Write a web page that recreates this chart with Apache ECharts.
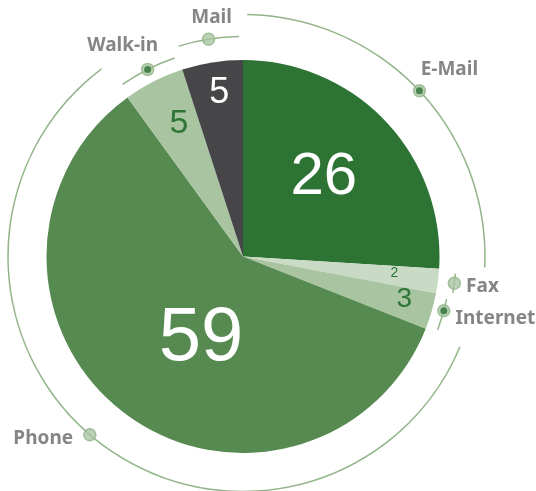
<!DOCTYPE html>
<html><head><meta charset="utf-8">
<script src="https://cdn.jsdelivr.net/npm/echarts@6/dist/echarts.min.js"></script>
<style>html,body{margin:0;padding:0;background:#fff}#c{width:536px;height:491px}</style>
</head><body><div id="c"></div>
<script>
// ---- data ----
const categories = ['E-Mail', 'Fax', 'Internet', 'Phone', 'Walk-in', 'Mail'];
const values = [26, 2, 3, 59, 5, 5];

// ---- styling / layout ----
const sliceColors = ['#2d7334', '#c9dbc5', '#a9c4a1', '#568a50', '#a9c4a1', '#464648'];
const valueLabelColors = ['#ffffff', '#2f7535', '#2f7535', '#ffffff', '#2f7535', '#ffffff'];
const valueLabelSizes = [60, 14, 28, 76, 34, 36];
const valueLabelOffsets = [[7, -10], [51, 4], [64, 15], [20, 3], [-18, -43], [-8, -63]];
const arcRadius = [242, 213, 208, 235, 210, 220];
const dotShift = [0, 0, -0.3, 0.8, 0, 0];
const innerDot = [true, false, true, false, true, false];
const nameLabelPos = ['top', 'right', 'right', 'left', 'top', 'top'];
const nameLabelOffsets = [[30, 0], [0, 3], [0, 8], [-5, 4], [-25, -3], [3, 0]];

const CX = 243, CY = 256.5, R = 196.5;
const total = values.reduce((a, b) => a + b, 0);
const mids = [];
let acc = 0;
values.forEach(v => { mids.push(acc + v / 2); acc += v; });

const arcColor = '#93b58b';
const series = [];

// thin outer arcs, one per category
categories.forEach((c, i) => {
  series.push({
    type: 'pie', center: [CX, CY],
    radius: [arcRadius[i] - 0.75, arcRadius[i] + 0.75],
    startAngle: 90, padAngle: 2, silent: true,
    label: { show: false }, labelLine: { show: false },
    data: values.map((v, j) => ({ value: v, name: categories[j],
      itemStyle: { color: j === i ? arcColor : 'rgba(0,0,0,0)' } }))
  });
});

// main pie
series.push({
  type: 'pie', center: [CX, CY], radius: [0, R], startAngle: 90, silent: true,
  labelLine: { show: false },
  data: categories.map((c, i) => ({
    name: c, value: values[i],
    itemStyle: { color: sliceColors[i] },
    label: {
      show: true, position: 'inside', formatter: '{c}',
      color: valueLabelColors[i], fontSize: valueLabelSizes[i],
      fontFamily: 'Liberation Sans', offset: valueLabelOffsets[i]
    }
  }))
});

// dots + category labels
series.push({
  type: 'scatter', coordinateSystem: 'polar', symbolSize: 12, silent: true, z: 5,
  itemStyle: { color: '#a9c5a2', borderColor: '#93b58b', borderWidth: 1.5 },
  data: categories.map((c, i) => ({
    name: c, value: [arcRadius[i], mids[i] + dotShift[i]],
    label: {
      show: true, formatter: c, position: nameLabelPos[i], distance: 5,
      offset: nameLabelOffsets[i], color: '#666666', fontSize: 19,
      fontWeight: 'bold', fontFamily: 'Noto Sans'
    }
  }))
});
series.push({
  type: 'scatter', coordinateSystem: 'polar', symbolSize: 7, silent: true, z: 6,
  itemStyle: { color: '#2d7334' },
  data: categories.map((c, i) => innerDot[i] ? [arcRadius[i], mids[i] + dotShift[i]] : null).filter(d => d)
});

const chart = echarts.init(document.getElementById('c'), null, { renderer: 'canvas' });
chart.setOption({
  animation: false,
  backgroundColor: '#ffffff',
  polar: { center: [CX, CY], radius: 250 },
  angleAxis: { type: 'value', min: 0, max: total, startAngle: 90, clockwise: true, show: false,
    axisLine: { show: false }, splitLine: { show: false }, axisLabel: { show: false }, axisTick: { show: false } },
  radiusAxis: { type: 'value', min: 0, max: 250, show: false,
    axisLine: { show: false }, splitLine: { show: false }, axisLabel: { show: false }, axisTick: { show: false } },
  series: series
});
</script>
</body></html>
